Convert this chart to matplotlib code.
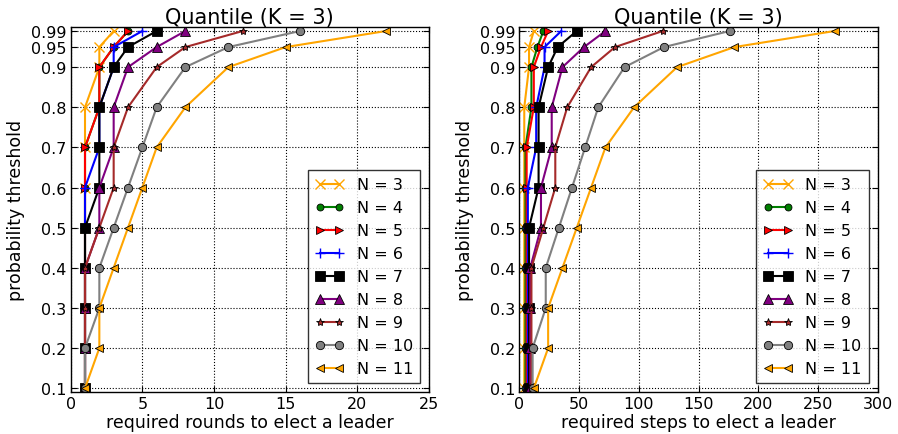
import matplotlib
matplotlib.use('Agg')
import matplotlib.pyplot as plt

# probability thresholds (y values)
thresholds = [0.1, 0.2, 0.3, 0.4, 0.5, 0.6, 0.7, 0.8, 0.9, 0.95, 0.99]
ytick_labels = ['0.1', '0.2', '0.3', '0.4', '0.5', '0.6', '0.7', '0.8', '0.9', '0.95', '0.99']

n_values = [3, 4, 5, 6, 7, 8, 9, 10, 11]

# required rounds to elect a leader, one list per N
rounds_n3 = [1, 1, 1, 1, 1, 1, 1, 1, 2, 2, 3]
rounds_n4 = [1, 1, 1, 1, 1, 1, 1, 2, 2, 3, 4]
rounds_n5 = [1, 1, 1, 1, 1, 1, 1, 2, 2, 3, 4]
rounds_n6 = [1, 1, 1, 1, 1, 1, 2, 2, 3, 3, 5]
rounds_n7 = [1, 1, 1, 1, 1, 2, 2, 2, 3, 4, 6]
rounds_n8 = [1, 1, 1, 1, 2, 2, 3, 3, 4, 6, 8]
rounds_n9 = [1, 1, 1, 1, 2, 3, 3, 4, 6, 8, 12]
rounds_n10 = [1, 1, 2, 2, 3, 4, 5, 6, 8, 11, 16]
rounds_n11 = [1, 2, 2, 3, 4, 5, 6, 8, 11, 15, 22]

# required steps to elect a leader, one list per N
steps_n3 = [4, 4, 4, 4, 4, 4, 4, 4, 8, 8, 12]
steps_n4 = [5, 5, 5, 5, 5, 5, 5, 10, 10, 15, 20]
steps_n5 = [6, 6, 6, 6, 6, 6, 6, 12, 12, 18, 24]
steps_n6 = [7, 7, 7, 7, 7, 7, 14, 14, 21, 21, 35]
steps_n7 = [8, 8, 8, 8, 8, 16, 16, 16, 24, 32, 48]
steps_n8 = [9, 9, 9, 9, 18, 18, 27, 27, 36, 54, 72]
steps_n9 = [10, 10, 10, 10, 20, 30, 30, 40, 60, 80, 120]
steps_n10 = [11, 11, 22, 22, 33, 44, 55, 66, 88, 121, 176]
steps_n11 = [12, 24, 24, 36, 48, 60, 72, 96, 132, 180, 264]

rounds = [rounds_n3, rounds_n4, rounds_n5, rounds_n6, rounds_n7,
          rounds_n8, rounds_n9, rounds_n10, rounds_n11]
steps = [steps_n3, steps_n4, steps_n5, steps_n6, steps_n7,
         steps_n8, steps_n9, steps_n10, steps_n11]

colors = ['orange', 'green', 'red', 'blue', 'black', 'purple', 'brown', 'gray', 'orange']
markers = ['x', 'o', '>', '+', 's', '^', '*', 'o', '<']
msizes = [7, 5, 6, 7, 6.5, 6.5, 6, 6, 6]

plt.rcParams.update({
    'font.family': 'DejaVu Sans',
    'font.size': 12,
    'xtick.labelsize': 11.5,
    'ytick.labelsize': 11.5,
    'xtick.direction': 'in',
    'ytick.direction': 'in',
    'xtick.top': True,
    'ytick.right': True,
    'xtick.major.size': 4,
    'ytick.major.size': 4,
    'xtick.major.pad': 3,
    'ytick.major.pad': 3,
    'grid.color': 'black',
    'grid.linestyle': ':',
    'grid.linewidth': 0.8,
    'legend.numpoints': 2,
    'legend.fancybox': False,
})

fig = plt.figure(figsize=(8.98, 4.35), dpi=100)
ax1 = fig.add_axes([0.0787, 0.0959, 0.399, 0.8397])
ax2 = fig.add_axes([0.5785, 0.0959, 0.3987, 0.8397])


def draw(ax, data, xmax, xlabel):
    for n, xs, c, m, ms in zip(n_values, data, colors, markers, msizes):
        mec = c if m in ('x', '+') else 'black'
        ax.plot(xs, thresholds, color=c, marker=m, markersize=ms,
                markeredgecolor=mec, markeredgewidth=1.0 if m in ('x', '+') else 0.6,
                linewidth=1.5, label='N = %d' % n)
    ax.set_xlim(0, xmax)
    ax.set_ylim(0.09, 1.0)
    ax.set_yticks(thresholds)
    ax.set_yticklabels(ytick_labels)
    ax.grid(True)
    ax.set_title('Quantile (K = 3)', fontsize=15, pad=2)
    ax.set_xlabel(xlabel, fontsize=12.5, labelpad=1)
    ax.set_ylabel('probability threshold', fontsize=12.5, labelpad=4)
    leg = ax.legend(loc='lower right', fontsize=11.5, frameon=True,
                    borderaxespad=0.55, handlelength=1.8, labelspacing=0.5,
                    borderpad=0.45)
    leg.get_frame().set_edgecolor('black')
    leg.get_frame().set_linewidth(1.0)
    for s in ax.spines.values():
        s.set_linewidth(1.0)


draw(ax1, rounds, 25, 'required rounds to elect a leader')
draw(ax2, steps, 300, 'required steps to elect a leader')

fig.savefig('out.png', dpi=100, facecolor='white')
